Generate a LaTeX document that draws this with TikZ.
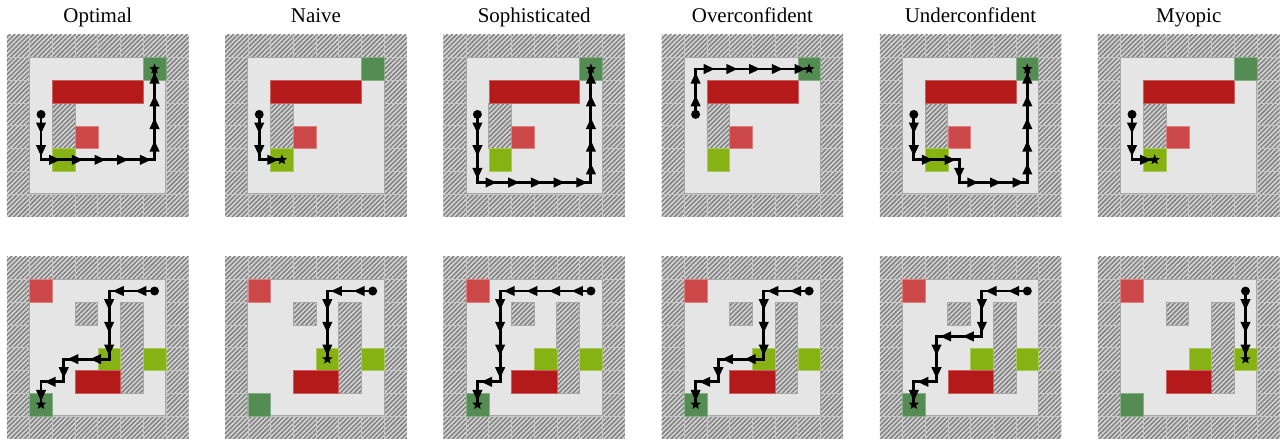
\documentclass[tikz,border=0pt]{standalone}
\usepackage{fontspec}
\setmainfont{Liberation Serif}
\usetikzlibrary{patterns.meta,decorations.markings,shapes.geometric}

\definecolor{wallbg}{RGB}{216,216,216}
\definecolor{wallstripe}{RGB}{132,132,132}
\definecolor{wallline}{RGB}{198,198,198}
\definecolor{floorgray}{RGB}{229,229,229}
\definecolor{edgegray}{RGB}{168,168,168}
\definecolor{bigred}{RGB}{180,26,26}
\definecolor{smallred}{RGB}{204,72,72}
\definecolor{goalgreen}{RGB}{84,140,84}
\definecolor{snackgreen}{RGB}{134,178,20}

% frame of one gridworld: outer wall ring and floor
\newcommand{\worldframe}{%
  \fill[wall] (0,0) rectangle (8,8);
  \foreach \k in {1,...,7} {
    \draw[wallgrid] (\k,0) -- (\k,8);
    \draw[wallgrid] (0,\k) -- (8,\k);
  }
  \filldraw[floor] (1,1) rectangle (7,7);
}
\newcommand{\topworld}{%
  \worldframe
  \fill[wall] (2,3) rectangle (3,5);
  \draw[walledge] (2,3) rectangle (3,5);
  \filldraw[bigcost] (2,2) rectangle (6,3);
  \filldraw[smallcost] (3,4) rectangle (4,5);
  \filldraw[snack] (2,5) rectangle (3,6);
  \filldraw[goal] (6,1) rectangle (7,2);
}
\newcommand{\bottomworld}{%
  \worldframe
  \fill[wall] (3,2) rectangle (4,3);
  \draw[walledge] (3,2) rectangle (4,3);
  \fill[wall] (5,2) rectangle (6,6);
  \draw[walledge] (5,2) rectangle (6,6);
  \filldraw[smallcost] (1,1) rectangle (2,2);
  \filldraw[snack] (4,4) rectangle (5,5);
  \filldraw[snack] (6,4) rectangle (7,5);
  \filldraw[bigcost] (3,5) rectangle (5,6);
  \filldraw[goal] (1,6) rectangle (2,7);
}
% one step per pair of cells, arrow in the middle
\newcommand{\walk}[1]{%
  \foreach \cx/\cy [count=\i, remember=\cx as \px (initially 0), remember=\cy as \py (initially 0)] in {#1} {
    \ifnum\i>1
      \draw[trail,steparrow] (\px+.5,\py+.5) -- (\cx+.5,\cy+.5);
    \fi
  }
}

\begin{document}
\begin{tikzpicture}
  [x=0.8cm,y=-0.8cm,
  wall/.style={fill=wallbg,
    postaction={pattern={Lines[angle=45,distance=3.3pt,line width=1.65pt]},
                pattern color=wallstripe}},
  wallgrid/.style={draw=wallline,line width=0.7pt},
  walledge/.style={draw=edgegray,line width=0.8pt},
  floor/.style={fill=floorgray,draw=edgegray,line width=0.8pt},
  bigcost/.style={fill=bigred,draw=bigred!70!white,line width=0.5pt},
  smallcost/.style={fill=smallred,draw=smallred!70!white,line width=0.5pt},
  snack/.style={fill=snackgreen,draw=snackgreen!70!white,line width=0.5pt},
  goal/.style={fill=goalgreen,draw=goalgreen!70!white,line width=0.5pt},
  trail/.style={black,line width=2.9pt,line cap=rect},
  headtri/.style={isosceles triangle,isosceles triangle apex angle=50,fill=black,
                  inner sep=0pt,minimum height=11pt,minimum width=10pt,transform shape},
  steparrow/.style={decoration={markings,
    mark=at position 0.5 with {\node[headtri] {};}},
    postaction=decorate},
  startdot/.style={circle,fill=black,inner sep=0pt,minimum size=9pt},
  enddot/.style={star,star points=5,star point ratio=2.3,fill=black,
                  inner sep=0pt,minimum size=11pt},
  title/.style={anchor=base,font=\fontsize{21}{25}\selectfont},
  panel/.style 2 args={shift={(0.308+9.612*#1,#2)}}
  ]
  \useasboundingbox (0,0) rectangle (56.52,19.38);

  \foreach \name [count=\i from 0] in {Optimal,Naive,Sophisticated,Overconfident,Underconfident,Myopic} {
    \node[title] (title\i) at (4.308+9.612*\i,0.97) {\name};
    \begin{scope}[panel={\i}{1.54}]
      \topworld
    \end{scope}
    \begin{scope}[panel={\i}{11.32}]
      \bottomworld
    \end{scope}
  }

  % top row
  \begin{scope}[panel={0}{1.54}]
    \walk{1/3,1/4,1/5,2/5,3/5,4/5,5/5,6/5,6/4,6/3,6/2,6/1}
    \node[startdot] (start1) at (1.5,3.5) {};
    \node[enddot] (end1) at (6.5,1.5) {};
  \end{scope}
  \begin{scope}[panel={1}{1.54}]
    \walk{1/3,1/4,1/5,2/5}
    \node[startdot] (start2) at (1.5,3.5) {};
    \node[enddot] (end2) at (2.5,5.5) {};
  \end{scope}
  \begin{scope}[panel={2}{1.54}]
    \walk{1/3,1/4,1/5,1/6,2/6,3/6,4/6,5/6,6/6,6/5,6/4,6/3,6/2,6/1}
    \node[startdot] (start3) at (1.5,3.5) {};
    \node[enddot] (end3) at (6.5,1.5) {};
  \end{scope}
  \begin{scope}[panel={3}{1.54}]
    \walk{1/3,1/2,1/1,2/1,3/1,4/1,5/1,6/1}
    \node[startdot] (start4) at (1.5,3.5) {};
    \node[enddot] (end4) at (6.5,1.5) {};
  \end{scope}
  \begin{scope}[panel={4}{1.54}]
    \walk{1/3,1/4,1/5,2/5,3/5,3/6,4/6,5/6,6/6,6/5,6/4,6/3,6/2,6/1}
    \node[startdot] (start5) at (1.5,3.5) {};
    \node[enddot] (end5) at (6.5,1.5) {};
  \end{scope}
  \begin{scope}[panel={5}{1.54}]
    \walk{1/3,1/4,1/5,2/5}
    \node[startdot] (start6) at (1.5,3.5) {};
    \node[enddot] (end6) at (2.5,5.5) {};
  \end{scope}

  % bottom row
  \begin{scope}[panel={0}{11.32}]
    \walk{6/1,5/1,4/1,4/2,4/3,4/4,3/4,2/4,2/5,1/5,1/6}
    \node[startdot] (start7) at (6.5,1.5) {};
    \node[enddot] (end7) at (1.5,6.5) {};
  \end{scope}
  \begin{scope}[panel={1}{11.32}]
    \walk{6/1,5/1,4/1,4/2,4/3,4/4}
    \node[startdot] (start8) at (6.5,1.5) {};
    \node[enddot] (end8) at (4.5,4.5) {};
  \end{scope}
  \begin{scope}[panel={2}{11.32}]
    \walk{6/1,5/1,4/1,3/1,2/1,2/2,2/3,2/4,2/5,1/5,1/6}
    \node[startdot] (start9) at (6.5,1.5) {};
    \node[enddot] (end9) at (1.5,6.5) {};
  \end{scope}
  \begin{scope}[panel={3}{11.32}]
    \walk{6/1,5/1,4/1,4/2,4/3,4/4,3/4,2/4,2/5,1/5,1/6}
    \node[startdot] (start10) at (6.5,1.5) {};
    \node[enddot] (end10) at (1.5,6.5) {};
  \end{scope}
  \begin{scope}[panel={4}{11.32}]
    \walk{6/1,5/1,4/1,4/2,4/3,3/3,2/3,2/4,2/5,1/5,1/6}
    \node[startdot] (start11) at (6.5,1.5) {};
    \node[enddot] (end11) at (1.5,6.5) {};
  \end{scope}
  \begin{scope}[panel={5}{11.32}]
    \walk{6/1,6/2,6/3,6/4}
    \node[startdot] (start12) at (6.5,1.5) {};
    \node[enddot] (end12) at (6.5,4.5) {};
  \end{scope}
\end{tikzpicture}
\end{document}
